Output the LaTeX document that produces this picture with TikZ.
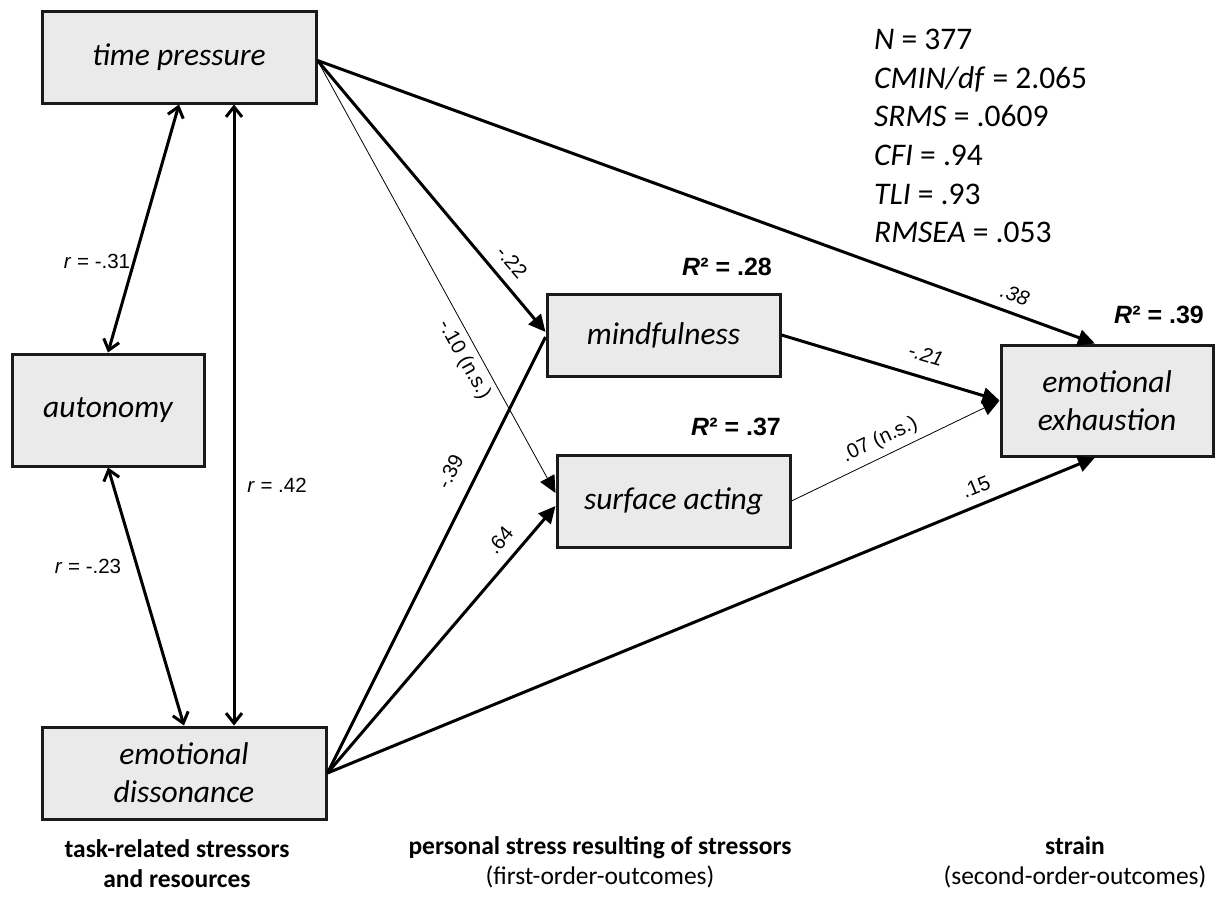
\documentclass[tikz,border=0pt]{standalone}
\usepackage{fontspec}
\setmainfont{Carlito}
\newfontfamily\arialf{Liberation Sans}
\usetikzlibrary{arrows.meta}
\definecolor{boxfill}{HTML}{EAEAEA}
\definecolor{boxline}{HTML}{1A1A1A}

\begin{document}
\begin{tikzpicture}[x=1pt,y=-1pt,
  box/.style={draw=boxline, line width=3pt, fill=boxfill, inner sep=0pt,
    align=center, font=\fontsize{31.5}{38}\selectfont\itshape},
  effect/.style={line width=3pt, -{Triangle[length=17pt,width=16pt]}},
  weakeffect/.style={line width=0.8pt, -{Triangle[length=17pt,width=16pt]}},
  plainline/.style={line width=3pt},
  corr/.style={line width=3pt,
    {Straight Barb[length=10pt,width=16pt]}-{Straight Barb[length=10pt,width=16pt]}},
  coef/.style={font=\arialf\fontsize{20.5}{24}\selectfont, inner sep=0pt},
  rsq/.style={font=\arialf\bfseries\fontsize{25}{29}\selectfont, inner sep=0pt},
  group/.style={align=center, inner sep=0pt, anchor=base,
    font=\fontsize{25.5}{30}\selectfont}
]
\useasboundingbox (0,0) rectangle (1215,899);

% variables
\node[box, minimum width=274pt, minimum height=91pt]  (tp) at (179,57.5)    {time pressure};
\node[box, minimum width=192pt, minimum height=112pt] (au) at (108,410)     {autonomy};
\node[box, minimum width=284pt, minimum height=92pt]  (ed) at (184,773)     {emotional\\dissonance};
\node[box, minimum width=233pt, minimum height=82pt]  (mf) at (663.5,335)   {mindfulness};
\node[box, minimum width=233pt, minimum height=92pt]  (sa) at (673.5,501)   {surface acting};
\node[box, minimum width=212pt, minimum height=111pt] (ee) at (1107,400.5)  {emotional\\exhaustion};

% correlations among the predictors
\draw[corr] (tp.south) -- (au.north);
\draw[corr] (au.south) -- (ed.north);
\draw[corr] ([xshift=55pt]tp.south) -- ([xshift=55pt]tp.south |- ed.north);

% structural paths
\draw[effect]     ([yshift=-3pt]tp.east) -- ([xshift=-12pt]ee.north);
\draw[effect]     ([yshift=-3pt]tp.east) -- ([yshift=3pt]mf.west);
\draw[weakeffect] ([yshift=-3pt]tp.east) -- ([yshift=8pt]sa.west);
\draw[plainline]  (ed.east) -- ([yshift=-2pt]mf.west);
\draw[effect]     (ed.east) -- ([yshift=-5pt]sa.west);
\draw[effect]     (ed.east) -- ([xshift=-12pt]ee.south);
\draw[effect]     (mf.east) -- (ee.west);
\draw[weakeffect] (sa.east) -- (ee.west);

% correlation labels
\node[coef] (c1) at (97,261)  {\textit{r} = -.31};
\node[coef] (c2) at (277,485) {\textit{r} = .42};
\node[coef] (c3) at (88,566)  {\textit{r} = -.23};

% path coefficients
\node[coef, rotate=-20.1] (p1) at (1015,295) {\textit{.38}};
\node[coef, rotate=-49.1] (p2) at (512,262)  {-.22};
\node[coef, rotate=-60.9] (p3) at (464,360)  {-.10 (n.s.)};
\node[coef, rotate=63.2]  (p4) at (450,472)  {-.39};
\node[coef, rotate=49.3]  (p5) at (500,540)  {.64};
\node[coef, rotate=22.2]  (p6) at (976,487)  {.15};
\node[coef, rotate=-16.5] (p7) at (926,355)  {\textit{-.21}};
\node[coef, rotate=25.4]  (p8) at (880,440)  {.07 (n.s.)};

% explained variance
\node[rsq] (r1) at (727,267)  {\textit{R}² = .28};
\node[rsq] (r2) at (736,427)  {\textit{R}² = .37};
\node[rsq] (r3) at (1159,315) {\textit{R}² = .39};

% model fit
\node[anchor=north west, inner sep=0pt, align=left,
      font=\fontsize{31.5}{38.6}\selectfont] (fit) at (874,29)
  {\textit{N} = 377\\
   \textit{CMIN/df} = 2.065\\
   \textit{SRMS} = .0609\\
   \textit{CFI} = .94\\
   \textit{TLI} = .93\\
   \textit{RMSEA} = .053};

% column headings (anchored at the baseline of their last line)
\node[group] (g1) at (177,887)  {\textbf{task-related stressors}\\\textbf{and resources}};
\node[group] (g2) at (600,884)  {\textbf{personal stress resulting of stressors}\\(first-order-outcomes)};
\node[group] (g3) at (1075,884) {\textbf{strain}\\(second-order-outcomes)};
\end{tikzpicture}
\end{document}
